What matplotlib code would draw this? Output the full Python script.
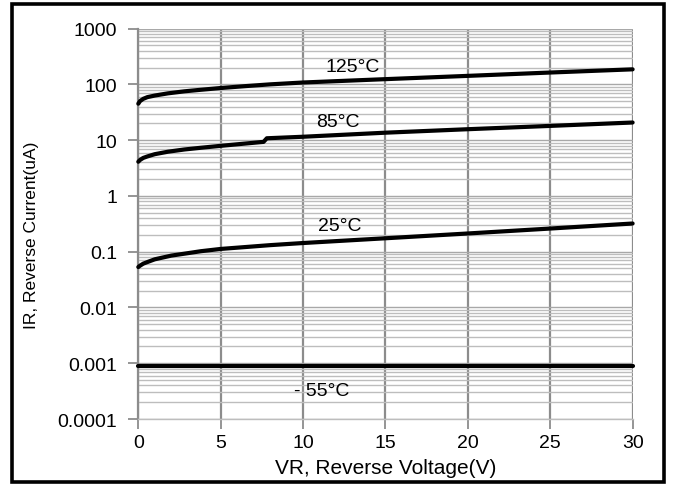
import matplotlib
matplotlib.use("Agg")
import matplotlib.pyplot as plt
from matplotlib.patches import Rectangle
from matplotlib.ticker import LogLocator, FixedLocator, NullFormatter

plt.rcParams['font.family'] = ['Liberation Sans', 'DejaVu Sans']

v_125 = [0, 0.1, 0.3, 0.55, 1, 1.8, 2.8, 3.8, 5, 6.5, 8, 10, 15, 20, 25, 30]
i_125 = [45, 50, 55, 59, 63, 69, 75, 80, 86, 93, 100, 108, 124, 142, 163, 186]

v_85 = [0, 0.1, 0.3, 0.55, 1, 1.8, 2.8, 3.8, 5, 7.4, 7.6, 7.8, 10, 15, 20, 25, 30]
i_85 = [4.1, 4.4, 4.8, 5.1, 5.6, 6.2, 6.8, 7.3, 7.9, 9.2, 9.3, 10.8, 11.5, 13.6, 15.7, 18.0, 20.7]

v_25 = [0, 0.1, 0.3, 0.6, 1, 2, 3, 3.8, 5, 8, 10, 15, 20, 25, 30]
i_25 = [0.053, 0.056, 0.061, 0.066, 0.073, 0.085, 0.094, 0.102, 0.112, 0.131, 0.143, 0.174, 0.212, 0.26, 0.32]

v_m55 = [0, 30]
i_m55 = [0.0009, 0.0009]

labels = ["125°C", "85°C", "25°C", "- 55°C"]
label_x = [13.0, 12.1, 12.2, 11.1]
label_y = [212, 21.7, 0.29, 0.00033]

y_ticks = [0.0001, 0.001, 0.01, 0.1, 1, 10, 100, 1000]
y_tick_labels = ["0.0001", "0.001", "0.01", "0.1", "1", "10", "100", "1000"]
x_ticks = [0, 5, 10, 15, 20, 25, 30]

fig = plt.figure(figsize=(6.73, 4.85), dpi=100)
ax = fig.add_axes([0.2055, 0.134, 0.7345, 0.805])

ax.set_yscale('log')
ax.set_xlim(0, 30)
ax.set_ylim(0.0001, 1000)

ax.yaxis.set_major_locator(FixedLocator(y_ticks))
ax.set_yticklabels(y_tick_labels)
ax.yaxis.set_minor_locator(LogLocator(base=10, subs=range(2, 10), numticks=50))
ax.yaxis.set_minor_formatter(NullFormatter())
ax.xaxis.set_major_locator(FixedLocator(x_ticks))

ax.grid(which='minor', axis='y', color='#bdbdbd', linewidth=1.0)
ax.grid(which='major', axis='y', color='#a8a8a8', linewidth=1.0)
ax.grid(which='major', axis='x', color='#8c8c8c', linewidth=1.6)
ax.set_axisbelow(True)

for s in ['top', 'right']:
    ax.spines[s].set_visible(False)
ax.spines['left'].set_color('#8c8c8c')
ax.spines['left'].set_linewidth(1.6)
ax.spines['bottom'].set_color('#bdbdbd')
ax.spines['bottom'].set_linewidth(1.0)

ax.tick_params(axis='both', which='major', length=7, width=1.3, color='#8c8c8c',
               labelsize=14, labelcolor='black')
ax.tick_params(axis='y', which='major', pad=8)
ax.tick_params(axis='x', which='major', pad=4)
ax.tick_params(axis='y', which='minor', length=0)

for vv, ii in [(v_125, i_125), (v_85, i_85), (v_25, i_25), (v_m55, i_m55)]:
    ax.plot(vv, ii, color='black', linewidth=3.0, solid_capstyle='round',
            solid_joinstyle='round', clip_on=False, zorder=5)

for t, lx, ly in zip(labels, label_x, label_y):
    ax.text(lx, ly, t, ha='center', va='center', fontsize=14, zorder=6)

ax.set_xlabel("VR, Reverse Voltage(V)", fontsize=15)
ax.set_ylabel("IR, Reverse Current(uA)", fontsize=12.5)
ax.xaxis.set_label_coords(0.5, -0.1)
ax.yaxis.set_label_coords(-0.2, 0.474)

fig.patches.append(Rectangle((12 / 673, 2.5 / 485), 652 / 673, 478 / 485,
                             transform=fig.transFigure, fill=False,
                             edgecolor='black', linewidth=2.6))

fig.savefig("out.png", dpi=100)
